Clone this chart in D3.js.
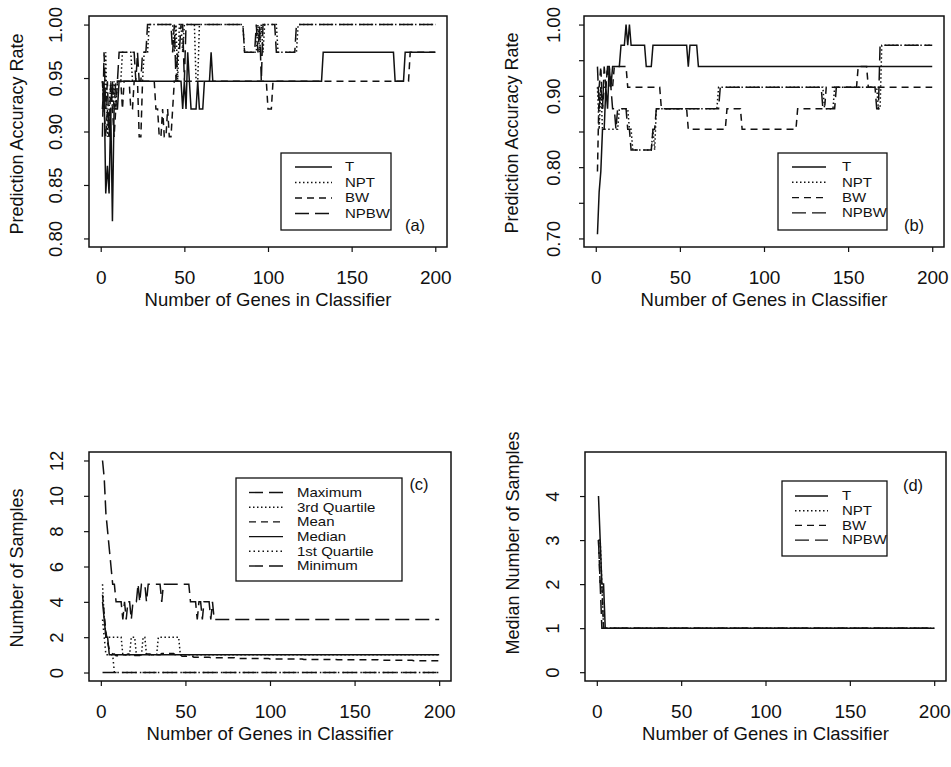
<!DOCTYPE html>
<html lang="en">
<head>
<meta charset="utf-8">
<title>Prediction accuracy and number of samples vs genes in classifier</title>
<script src="https://d3js.org/d3.v7.min.js"></script>
<style>
  body { margin: 0; background: #fff; }
  svg text { font-family: "Liberation Sans", Arial, sans-serif; fill: #111; }
</style>
</head>
<body>
<script>
// x axis is the same everywhere: number of genes 1..200
var xTicks = [0, 50, 100, 150, 200];

// ---- panel (a): accuracy rate, change points [genes, rate]
var aT    = [[1,.921],[2,.947],[3,.842],[4,.868],[5,.842],[6,.921],[7,.816],[8,.921],[11,.947],[49,.921],[50,.947],[51,.921],[52,.974],[53,.947],[54,.921],[58,.947],[59,.921],[62,.947],[66,.974],[67,.947],[133,.974],[176,.947],[182,.974]];
var aNPT  = [[1,.947],[2,.921],[3,.974],[4,.895],[5,.921],[6,.947],[7,.921],[8,.947],[9,.921],[10,.947],[13,.974],[19,.947],[26,.974],[29,1],[44,.974],[45,1],[46,.947],[47,1],[49,.974],[50,1],[57,.947],[59,1],[86,.974],[94,1],[95,.974],[96,1],[97,.974],[98,1],[106,.974],[118,1]];
var aBW   = [[1,.947],[2,.921],[3,.895],[4,.921],[5,.895],[6,.947],[7,.921],[8,.895],[9,.921],[10,.947],[13,.921],[14,.947],[18,.921],[20,.947],[23,.895],[25,.947],[33,.921],[35,.895],[37,.921],[38,.895],[40,.921],[41,.895],[43,.921],[44,.947],[100,.921],[103,.947],[185,.974]];
var aNPBW = [[1,.895],[2,.974],[3,.921],[4,.947],[5,.895],[6,.921],[7,.947],[8,.921],[9,.947],[11,.974],[21,.947],[22,.974],[23,.947],[25,.974],[28,1],[43,.974],[44,1],[45,.947],[46,.974],[48,1],[50,.947],[51,1],[86,.974],[93,1],[94,.974],[95,1],[96,.947],[97,1],[105,.974],[117,1]];
var aTicks = [0.80, 0.85, 0.90, 0.95, 1.00];
var aLabels = ["0.80", "0.85", "0.90", "0.95", "1.00"];

// ---- panel (b)
var bT    = [[1,.706],[2,.765],[3,.794],[4,.853],[6,.912],[7,.882],[8,.941],[9,.912],[10,.941],[15,.971],[18,1],[19,.971],[20,1],[21,.971],[30,.941],[34,.971],[55,.941],[56,.971],[61,.941]];
var bNPT  = [[1,.912],[2,.853],[3,.912],[4,.853],[14,.882],[20,.853],[22,.824],[34,.853],[35,.824],[36,.882],[73,.912],[136,.882],[142,.912],[168,.882],[170,.971]];
var bBW   = [[1,.794],[2,.912],[3,.941],[4,.882],[5,.912],[7,.941],[8,.912],[11,.941],[19,.912],[39,.882],[55,.853],[78,.882],[87,.853],[120,.882],[137,.912],[156,.941],[162,.912]];
var bNPBW = [[1,.941],[2,.882],[3,.912],[4,.882],[5,.941],[6,.912],[7,.941],[9,.912],[10,.882],[12,.853],[13,.882],[19,.853],[21,.824],[34,.853],[36,.882],[74,.912],[135,.882],[143,.912],[167,.882],[169,.971]];
var bTicks = [0.70, 0.75, 0.80, 0.85, 0.90, 0.95, 1.00];
var bLabels = ["0.70", "", "0.80", "", "0.90", "", "1.00"];

// ---- panel (c): number of samples
var cMax  = [[1,12],[2,11],[3,9],[4,8],[5,7],[6,6],[7,5],[9,4],[13,3],[14,4],[15,3],[16,4],[18,3],[19,4],[22,5],[23,4],[24,5],[27,4],[28,5],[35,5],[36,4],[37,5],[53,4],[57,3],[58,4],[60,3],[61,4],[65,3],[66,4],[67,3]];
var cQ3   = [[1,5],[2,3],[3,2],[13,1],[18,2],[21,1],[25,2],[27,1],[34,2],[47,1]];
var cMean = [[1,4.4],[2,3.3],[3,2.3],[4,1.7],[5,1.3],[6,1.15],[7,1.05],[9,0.95],[12,1.0],[16,1.05],[20,0.97],[24,1.05],[30,1.0],[36,1.07],[44,1.0],[48,0.92],[55,0.87],[65,0.84],[80,0.8],[100,0.77],[120,0.74],[140,0.72],[165,0.69],[185,0.67]];
var cMed  = [[1,4],[2,3],[3,2],[5,1]];
var cQ1   = [[1,3],[2,2],[3,1],[8,0]];
var cMin  = [[1,0]];
var cTicks = [0, 2, 4, 6, 8, 10, 12];

// ---- panel (d): median number of samples
var dT    = [[1,4],[2,3],[3,2],[5,1]];
var dNPT  = [[1,3],[3,2],[4,1]];
var dBW   = [[1,3],[2,2],[4,1]];
var dNPBW = [[1,3],[2,2],[3,1]];
var dTicks = [0, 1, 2, 3, 4];

var methodNames = ["T", "NPT", "BW", "NPBW"];
var statNames = ["Maximum", "3rd Quartile", "Mean", "Median", "1st Quartile", "Minimum"];

// line styles
var SOLID = null, DOT = "1.5,2.5", DASH = "7,5", LONG = "14,6";

var w = 951, h = 767;
var svg = d3.select("body").append("svg").attr("width", w).attr("height", h);

// expand change points into one value per gene count
function steps(bp) {
	var out = [], j = 0;
	for (var g = 1; g <= 200; g++) {
		while (j + 1 < bp.length && bp[j + 1][0] <= g) j++;
		out.push([g, bp[j][1]]);
	}
	return out;
}

function panel(p) {
	var l = p.box[0], t = p.box[1], r = p.box[2], b = p.box[3];
	var x = d3.scaleLinear().domain([-7, 207]).range([l, r]);
	var y = d3.scaleLinear().domain(p.ydom).range([b, t]);
	var g = svg.append("g");

	// x axis
	var xa = g.append("g").attr("transform", "translate(0," + b + ")")
		.call(d3.axisBottom(x).tickValues(xTicks).tickSize(5).tickPadding(19));
	xa.select(".domain").remove();
	xa.selectAll("text").style("font-size", "19px");

	// y axis, labels parallel to the axis
	var ya = g.append("g").attr("transform", "translate(" + l + ",0)")
		.call(d3.axisLeft(y).tickValues(p.yticks).tickSize(5)
			.tickFormat(function(d, i) { return p.ylabels[i]; }));
	ya.select(".domain").remove();
	ya.selectAll("text")
		.attr("transform", "rotate(-90)")
		.attr("x", 0).attr("y", -p.labOff).attr("dy", 0)
		.attr("text-anchor", "middle")
		.style("font-size", "18.5px");
	g.selectAll(".tick line").attr("stroke", "#111").attr("stroke-width", 1.2);

	// series
	var line = d3.line().x(function(d) { return x(d[0]); }).y(function(d) { return y(d[1]); });
	p.series.forEach(function(s) {
		g.append("path").attr("d", line(steps(s.data)))
			.attr("fill", "none").attr("stroke", "#111").attr("stroke-width", 1.5)
			.attr("stroke-dasharray", s.dash);
	});

	// frame
	g.append("rect").attr("x", l).attr("y", t).attr("width", r - l).attr("height", b - t)
		.attr("fill", "none").attr("stroke", "#111").attr("stroke-width", 1.5);

	// titles
	g.append("text").attr("x", (l + r) / 2).attr("y", b + 59)
		.attr("text-anchor", "middle").style("font-size", "18.5px")
		.text("Number of Genes in Classifier");
	g.append("text").attr("transform", "translate(" + (l - 66) + "," + p.ytitleY + ") rotate(-90)")
		.attr("text-anchor", "middle").style("font-size", "18px")
		.text(p.ytitle);

	// legend (text a little condensed in height, as in the scan)
	var lg = p.legend;
	g.append("rect").attr("x", lg.box[0]).attr("y", lg.box[1])
		.attr("width", lg.box[2] - lg.box[0]).attr("height", lg.box[3] - lg.box[1])
		.attr("fill", "#fff").attr("stroke", "#111").attr("stroke-width", 1.3);
	lg.names.forEach(function(n, i) {
		var yy = lg.y0 + i * lg.dy;
		g.append("line").attr("x1", lg.lx[0]).attr("x2", lg.lx[1]).attr("y1", yy).attr("y2", yy)
			.attr("stroke", "#111").attr("stroke-width", 1.4).attr("stroke-dasharray", p.series[i].dash);
		g.append("text").attr("transform", "translate(" + lg.tx + "," + yy + ") scale(1.2,1)")
			.attr("dy", "0.35em")
			.style("font-size", "12.5px").text(n);
	});

	g.append("text").attr("x", p.tag[0]).attr("y", p.tag[1]).attr("dy", "0.35em")
		.attr("text-anchor", "middle").style("font-size", "16.5px").text(p.tag[2]);
}

panel({
	box: [89, 16, 447, 247], ydom: [0.792, 1.008], yticks: aTicks, ylabels: aLabels, labOff: 27,
	ytitle: "Prediction Accuracy Rate", ytitleY: 134,
	series: [{data: aT, dash: SOLID}, {data: aNPT, dash: DOT}, {data: aBW, dash: DASH}, {data: aNPBW, dash: LONG}],
	legend: {box: [281, 153, 391, 230], names: methodNames, y0: 167, dy: 15.5, lx: [295, 332], tx: 345},
	tag: [415, 225, "(a)"]
});

panel({
	box: [584, 16, 944, 247], ydom: [0.688, 1.012], yticks: bTicks, ylabels: bLabels, labOff: 24,
	ytitle: "Prediction Accuracy Rate", ytitleY: 133,
	series: [{data: bT, dash: SOLID}, {data: bNPT, dash: DOT}, {data: bBW, dash: DASH}, {data: bNPBW, dash: LONG}],
	legend: {box: [778, 153, 887, 230], names: methodNames, y0: 167, dy: 15.3, lx: [792, 826], tx: 842},
	tag: [914, 225, "(b)"]
});

panel({
	box: [89, 452, 451, 681], ydom: [-0.48, 12.48], yticks: cTicks, ylabels: cTicks.map(String), labOff: 26,
	ytitle: "Number of Samples", ytitleY: 568,
	series: [{data: cMax, dash: LONG}, {data: cQ3, dash: DOT}, {data: cMean, dash: DASH},
		{data: cMed, dash: SOLID}, {data: cQ1, dash: "1.5,3"}, {data: cMin, dash: LONG}],
	legend: {box: [236, 478, 402, 581], names: statNames, y0: 492.5, dy: 14.7, lx: [249, 283], tx: 297},
	tag: [419, 484, "(c)"]
});

panel({
	box: [585, 452, 946, 681], ydom: [-0.2, 5.0], yticks: dTicks, ylabels: dTicks.map(String), labOff: 26,
	ytitle: "Median Number of Samples", ytitleY: 543,
	series: [{data: dT, dash: SOLID}, {data: dNPT, dash: DOT}, {data: dBW, dash: DASH}, {data: dNPBW, dash: LONG}],
	legend: {box: [782, 481, 887, 556], names: methodNames, y0: 496, dy: 14.7, lx: [795, 828], tx: 842},
	tag: [913, 485, "(d)"]
});
</script>
</body>
</html>
